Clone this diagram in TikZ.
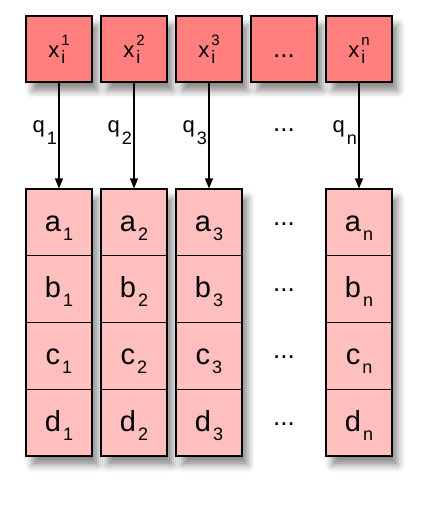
\documentclass[tikz,border=0pt]{standalone}
\usepackage{fontspec}
\setmainfont{Liberation Sans}
\usetikzlibrary{arrows.meta,shadows.blur}
\definecolor{keyred}{RGB}{255,127,127}
\definecolor{cellpink}{RGB}{255,191,191}
% label with a lowered index
\newcommand{\subl}[3][9pt]{#2\kern2pt\raisebox{-#1}{\fontsize{18}{18}\selectfont #3}}
% key label x, index i below, number above
\newcommand{\keyl}[1]{x\kern2pt\rlap{\raisebox{-6pt}{\fontsize{18}{18}\selectfont i}}\raisebox{12pt}{\fontsize{15}{15}\selectfont #1}}
\tikzset{
  keybox/.style={draw,line width=1.2pt,fill=keyred,minimum width=66pt,minimum height=66pt,
    inner sep=0pt,font=\fontsize{22}{24}\selectfont,text height=20pt,text depth=2pt,
    blur shadow={shadow xshift=6pt,shadow yshift=-9pt,shadow blur radius=7pt,shadow opacity=45}},
  cell/.style={draw,line width=1.2pt,fill=cellpink,minimum width=66pt,minimum height=66.75pt,
    inner sep=0pt,font=\fontsize{29}{32}\selectfont,text height=19.2pt,text depth=2pt},
  colshadow/.style={blur shadow={shadow xshift=6pt,shadow yshift=-9pt,shadow blur radius=7pt,shadow opacity=45}},
  hashline/.style={draw=black,line width=1.3pt,-{Triangle[length=10pt,width=8pt]}},
  plain/.style={font=\fontsize{26}{30}\selectfont,inner sep=1.5pt},
  qlabel/.style={font=\fontsize{22}{24}\selectfont,inner sep=1.5pt,text height=10pt,text depth=17pt}
}
\begin{document}
\begin{tikzpicture}[x=1pt,y=-1pt]
    \useasboundingbox (0,0) rectangle (433,505);
    % keys
    \begin{scope}[every node/.style={keybox}]
        \node (x1) at (59,49) {\keyl{1}};
        \node (x2) at (134,49) {\keyl{2}};
        \node (x3) at (209,49) {\keyl{3}};
        \node[font=\fontsize{26}{30}\selectfont] (x4) at (284,49) {...};
        \node (xn) at (359,49) {\keyl{n}};
    \end{scope}
    % column shadows
    \path[colshadow] (26,189) rectangle (92,456);
    \path[colshadow] (101,189) rectangle (167,456);
    \path[colshadow] (176,189) rectangle (242,456);
    \path[colshadow] (326,189) rectangle (392,456);
    % cells
    \begin{scope}[every node/.style={cell}]
        \node (a1) at (59,222.4) {\subl{a}{1}};
        \node (b1) at (59,289.1) {\subl{b}{1}};
        \node (c1) at (59,355.9) {\subl{c}{1}};
        \node (d1) at (59,422.6) {\subl{d}{1}};
        \node (a2) at (134,222.4) {\subl{a}{2}};
        \node (b2) at (134,289.1) {\subl{b}{2}};
        \node (c2) at (134,355.9) {\subl{c}{2}};
        \node (d2) at (134,422.6) {\subl{d}{2}};
        \node (a3) at (209,222.4) {\subl{a}{3}};
        \node (b3) at (209,289.1) {\subl{b}{3}};
        \node (c3) at (209,355.9) {\subl{c}{3}};
        \node (d3) at (209,422.6) {\subl{d}{3}};
        \node (an) at (359,222.4) {\subl{a}{n}};
        \node (bn) at (359,289.1) {\subl{b}{n}};
        \node (cn) at (359,355.9) {\subl{c}{n}};
        \node (dn) at (359,422.6) {\subl{d}{n}};
    \end{scope}
    % dots
    \begin{scope}[every node/.style={plain}]
        \node (qdots) at (284,130) {...};
        \node (adots) at (284,224) {...};
        \node (bdots) at (284,290.5) {...};
        \node (cdots) at (284,357.5) {...};
        \node (ddots) at (284,424) {...};
    \end{scope}
    % hash arrows
    \begin{scope}[every edge/.style={hashline}]
        \path (x1) edge node[qlabel,left] {\subl[12pt]{q}{1}} (a1)
              (x2) edge node[qlabel,left] {\subl[12pt]{q}{2}} (a2)
              (x3) edge node[qlabel,left] {\subl[12pt]{q}{3}} (a3)
              (xn) edge node[qlabel,left] {\subl[12pt]{q}{n}} (an);
    \end{scope}
\end{tikzpicture}
\end{document}
